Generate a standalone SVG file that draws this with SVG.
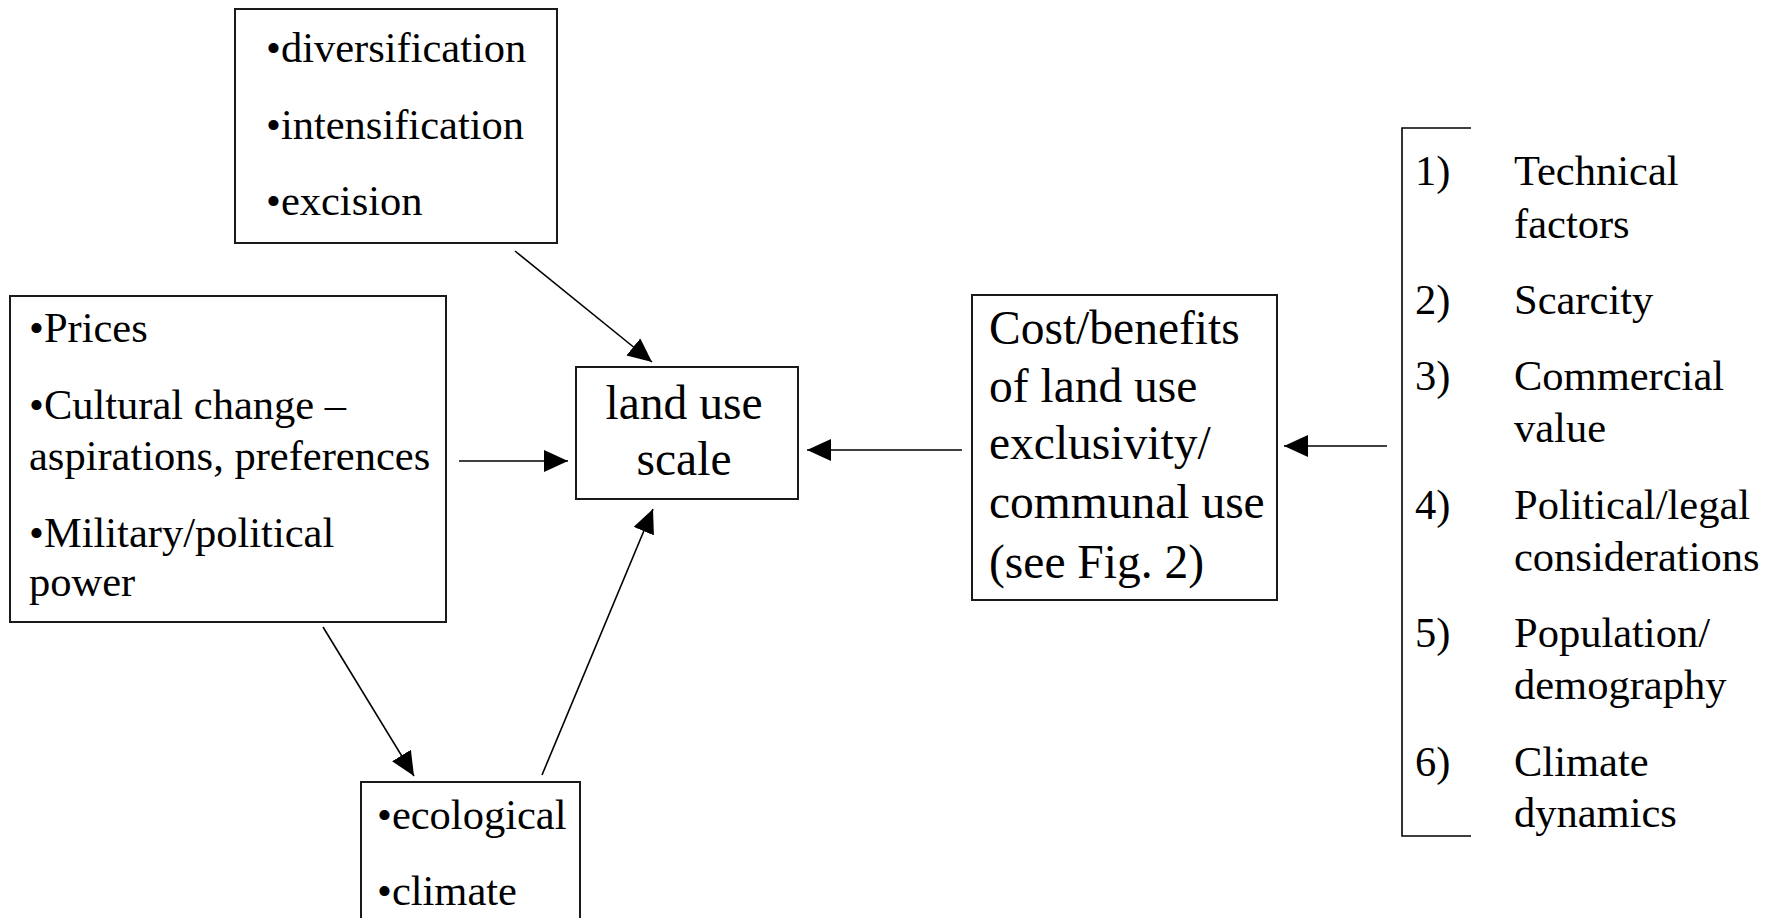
<svg xmlns="http://www.w3.org/2000/svg" width="1778" height="918" viewBox="0 0 1778 918">
  <defs>
    <style>
      .box { fill: #ffffff; stroke: #1a1a1a; stroke-width: 2; }
      .edge { fill: none; stroke: #000000; stroke-width: 1.6; }
      .t { font-family: "Liberation Serif", "Times New Roman", serif; fill: #000000; }
      .s { font-size: 42.5px; }
      .m { font-size: 47.5px; }
    </style>
    <marker id="arrow" markerUnits="userSpaceOnUse" markerWidth="24" markerHeight="22" viewBox="0 0 24 22" refX="24" refY="11" orient="auto">
      <path d="M0,0 L24,11 L0,22 Z" fill="#000000"/>
    </marker>
  </defs>
  <rect width="1778" height="918" fill="#ffffff"/>

  <!-- strategies box -->
  <g id="strategies">
    <rect class="box" x="235" y="9" width="322" height="234"/>
    <text class="t s" x="266" y="62">•diversification</text>
    <text class="t s" x="266" y="138.5">•intensification</text>
    <text class="t s" x="266" y="215">•excision</text>
  </g>

  <!-- external drivers box -->
  <g id="drivers">
    <rect class="box" x="10" y="296" width="436" height="326"/>
    <text class="t s" x="29" y="342">•Prices</text>
    <text class="t s" x="29" y="418.5">•Cultural change –</text>
    <text class="t s" x="29" y="470">aspirations, preferences</text>
    <text class="t s" x="29" y="546.5">•Military/political</text>
    <text class="t s" x="29" y="596">power</text>
  </g>

  <!-- central node -->
  <g id="land-use-scale">
    <rect class="box" x="576" y="367" width="222" height="132"/>
    <text class="t m" x="684" y="418.5" text-anchor="middle">land use</text>
    <text class="t m" x="684" y="475" text-anchor="middle">scale</text>
  </g>

  <!-- cost/benefit box -->
  <g id="cost-benefits">
    <rect class="box" x="972" y="295" width="305" height="305"/>
    <text class="t m" x="989" y="344">Cost/benefits</text>
    <text class="t m" x="989" y="402">of land use</text>
    <text class="t m" x="989" y="459">exclusivity/</text>
    <text class="t m" x="989" y="518">communal use</text>
    <text class="t m" x="989" y="578">(see Fig. 2)</text>
  </g>

  <!-- environmental box (runs off the bottom edge) -->
  <g id="environment">
    <rect class="box" x="361" y="782" width="219" height="160"/>
    <text class="t s" x="377" y="828.5">•ecological</text>
    <text class="t s" x="377" y="905">•climate</text>
  </g>

  <!-- bracketed factor list -->
  <g id="factors">
    <path class="edge" d="M1471,128 H1402 V836 H1471" stroke-width="2"/>
    <text class="t s" x="1415" y="185">1)</text>
    <text class="t s" x="1514" y="185">Technical</text>
    <text class="t s" x="1514" y="237.5">factors</text>
    <text class="t s" x="1415" y="313.5">2)</text>
    <text class="t s" x="1514" y="313.5">Scarcity</text>
    <text class="t s" x="1415" y="390">3)</text>
    <text class="t s" x="1514" y="390">Commercial</text>
    <text class="t s" x="1514" y="441.5">value</text>
    <text class="t s" x="1415" y="519">4)</text>
    <text class="t s" x="1514" y="519">Political/legal</text>
    <text class="t s" x="1514" y="570.5">considerations</text>
    <text class="t s" x="1415" y="647">5)</text>
    <text class="t s" x="1514" y="647">Population/</text>
    <text class="t s" x="1514" y="698.5">demography</text>
    <text class="t s" x="1415" y="775.5">6)</text>
    <text class="t s" x="1514" y="775.5">Climate</text>
    <text class="t s" x="1514" y="827">dynamics</text>
  </g>

  <!-- connectors -->
  <g id="connectors">
    <line class="edge" x1="515" y1="251" x2="652" y2="362" marker-end="url(#arrow)"/>
    <line class="edge" x1="459" y1="461" x2="568" y2="461" marker-end="url(#arrow)"/>
    <line class="edge" x1="962" y1="450" x2="807" y2="450" marker-end="url(#arrow)"/>
    <line class="edge" x1="1387" y1="446" x2="1284" y2="446" marker-end="url(#arrow)"/>
    <line class="edge" x1="323" y1="627" x2="414" y2="776" marker-end="url(#arrow)"/>
    <line class="edge" x1="542" y1="775" x2="653" y2="509" marker-end="url(#arrow)"/>
  </g>
</svg>
